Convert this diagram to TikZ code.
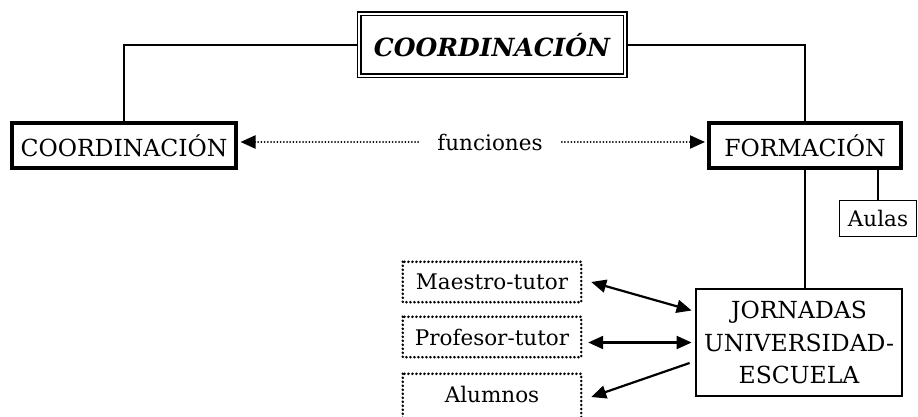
\documentclass[tikz,border=0pt]{standalone}
\usepackage{fontspec}
\setmainfont{DejaVu Serif}
\usetikzlibrary{arrows.meta}
\begin{document}
\begin{tikzpicture}[x=1pt,y=-1pt,
  >={Triangle[length=15pt,width=13pt]},
  capsfont/.style={font=\fontsize{23.5}{32.5}\selectfont},
  lowfont/.style={font=\fontsize{21.5}{26}\selectfont},
  titlebox/.style={draw, double, double distance=2.4pt, line width=1.3pt,
    minimum width=266, minimum height=62, inner sep=0pt,
    font=\fontsize{25}{30}\selectfont\bfseries\itshape},
  thickbox/.style={draw, line width=4pt, inner sep=0pt, capsfont},
  midbox/.style={draw, line width=2.8pt, inner sep=0pt, capsfont, align=center},
  thinbox/.style={draw, line width=1.8pt, inner sep=0pt, lowfont},
  dotpat/.style={dash pattern=on 0pt off 4pt, line cap=round, line width=2.8pt},
  dotbox/.style={inner sep=0pt, lowfont, minimum width=178, minimum height=40},
  conn/.style={line width=1.8pt},
  arr/.style={line width=2.2pt},
  dotarr/.style={dash pattern=on 0pt off 3.2pt, line cap=round, line width=2pt}
]
\useasboundingbox (0,0) rectangle (918,417);

\node[titlebox] (title) at (492,45) {COORDINACIÓN};
\node[thickbox, minimum width=224, minimum height=45] (coord) at (124,145.5) {COORDINACIÓN};
\node[thickbox, minimum width=192, minimum height=45] (form) at (805,145.5) {FORMACIÓN};
\node[lowfont, inner xsep=19pt, inner ysep=0pt] (fun) at (490,142) {funciones};
\node[thinbox, minimum width=77, minimum height=36] (aulas) at (878,218.5) {Aulas};
\node[midbox, minimum width=206, minimum height=107] (jorn) at (799,342.5) {JORNADAS\\UNIVERSIDAD-\\ESCUELA};

\node[dotbox] (maestro) at (492,282) {Maestro-tutor};
\node[dotbox] (prof) at (492,337) {Profesor-tutor};
\node[dotbox] (alum) at (492,394) {Alumnos};
\draw[dotpat] (maestro.north west) rectangle (maestro.south east);
\draw[dotpat] (prof.north west) rectangle (prof.south east);
\draw[dotpat] (alum.north west) rectangle ([yshift=-14pt]alum.south east);

% tree connectors
\draw[conn] (title.west) -| (coord.north);
\draw[conn] (title.east) -| (form.north);
\draw[conn] (form.south) -- (form.south |- jorn.north);
\draw[conn] (aulas.north) -- (aulas.north |- form.south);

% funciones arrows
\path (fun.west -| coord.east) ++(2.5,0) coordinate (cl);
\path (fun.east -| form.west) ++(-2,0) coordinate (fr);
\draw[dotarr, ->] (fun.west) -- (cl);
\draw[dotarr, ->] (fun.east) -- (fr);

% bottom arrows
\path (maestro.east) ++(10,0) coordinate (m1);
\path (jorn.west) ++(-3,-32) coordinate (m2);
\draw[arr, <->] (m1) -- (m2);
\path (jorn.west) ++(-3,0) coordinate (p2);
\path (prof.east) ++(7,0) coordinate (p1);
\draw[arr, <->] (p1 |- p2) -- (p2);
\path (jorn.west) ++(-5,20.5) coordinate (a1);
\path (alum.east) ++(10,3) coordinate (a2);
\draw[arr, ->] (a1) -- (a2);
\end{tikzpicture}
\end{document}
